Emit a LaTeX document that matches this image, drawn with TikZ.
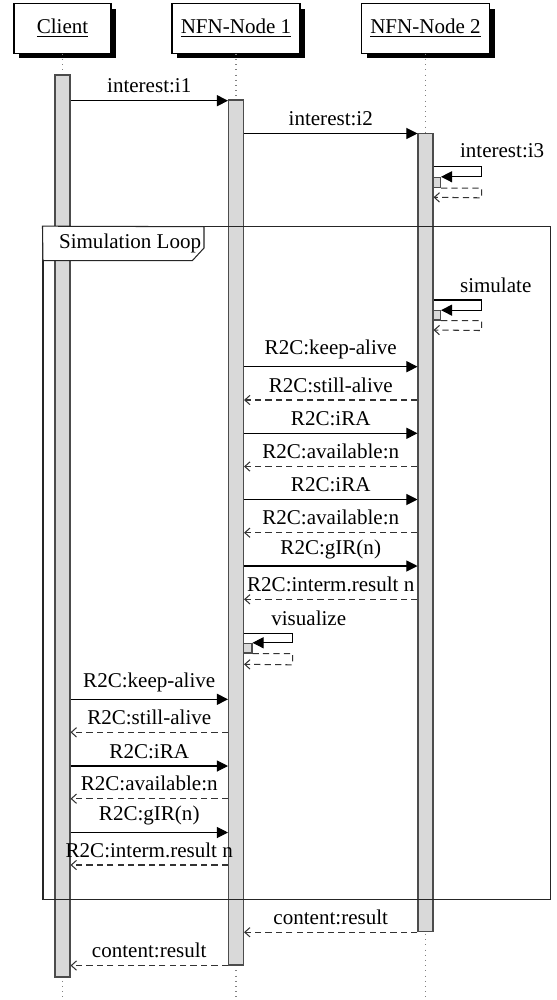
\documentclass[tikz,border=0pt]{standalone}
\usepackage{fontspec}
\setmainfont{Liberation Serif}
\usetikzlibrary{arrows.meta,shadows,fit}
\begin{document}
\begin{tikzpicture}[x=0.48pt,y=-0.48pt,
  font=\fontsize{10.1pt}{12pt}\selectfont,
  inst/.style={draw=black, fill=white, line width=0.5pt, minimum height=23.86pt,
    drop shadow={shadow xshift=2.5pt, shadow yshift=-2.5pt, fill=black, opacity=1}},
  life/.style={draw=gray, dotted, line width=0.5pt},
  bar/.style={draw=black!70, fill=gray!30, line width=0.5pt, inner sep=0pt},
  msg/.style={draw=black, line width=0.5pt, -{Triangle[length=5.3pt,width=5.3pt]}},
  ret/.style={draw=black!80, line width=0.5pt, dash pattern=on 3pt off 2pt,
    -{Straight Barb[length=2.5pt,width=4.5pt]}},
  lbl/.style={midway, above},
  frm/.style={draw=black!85, line width=0.5pt, inner sep=0pt}
]
\useasboundingbox (0,0) rectangle (556,1000);

% instances
\node[inst, minimum width=46.56pt] (hC) at (62.5,28.35) {\underline{Client}};
\node[inst, minimum width=61.44pt] (h1) at (236,28.35) {\underline{NFN-Node 1}};
\node[inst, minimum width=61.44pt] (h2) at (425.5,28.35) {\underline{NFN-Node 2}};

% lifelines
\draw[life] (hC.south) -- (hC.south |- 0,1000);
\draw[life] (h1.south) -- (h1.south |- 0,1000);
\draw[life] (h2.south) -- (h2.south |- 0,1000);

% activation bars
\node[bar, fit={(55,75) (70,977)}] (barC) {};
\node[bar, fit={(228.5,100) (243.5,965)}] (bar1) {};
\node[bar, fit={(418,133.3) (433,931.7)}] (bar2) {};

% initial interests
\draw[msg] (barC.east |- 0,100.7) -- node[lbl]{interest:i1} (bar1.west |- 0,100.7);
\draw[msg] (bar1.east |- 0,133.5) -- node[lbl]{interest:i2} (bar2.west |- 0,133.5);

% self call interest:i3
\node[bar, fit={(433,177.3) (440.5,187.7)}] (s3) {};
\draw[msg] (bar2.east |- 0,166.7) -- ++(48,0) |- (s3.north east);
\draw[ret] (s3.south east) -- ++(40.5,0) -- ++(0,9.6) -- (bar2.east |- 0,197.3);
\node[anchor=base west] (l3) at (452.7,158) {interest:i3};

% self call simulate
\node[bar, fit={(433,310.7) (440.5,320)}] (ss) {};
\draw[msg] (bar2.east |- 0,300) -- ++(48,0) |- (ss.north east);
\draw[ret] (ss.south east) -- ++(40.5,0) -- ++(0,10) -- (bar2.east |- 0,330);
\node[anchor=base west] (lsim) at (452.7,292) {simulate};

% NFN-Node 1 <-> NFN-Node 2
\draw[msg] (bar1.east |- 0,366.7) -- node[lbl]{R2C:keep-alive} (bar2.west |- 0,366.7);
\draw[ret] (bar2.west |- 0,400) -- node[lbl]{R2C:still-alive} (bar1.east |- 0,400);
\draw[msg] (bar1.east |- 0,433.3) -- node[lbl]{R2C:iRA} (bar2.west |- 0,433.3);
\draw[ret] (bar2.west |- 0,466.5) -- node[lbl]{R2C:available:n} (bar1.east |- 0,466.5);
\draw[msg] (bar1.east |- 0,499.5) -- node[lbl]{R2C:iRA} (bar2.west |- 0,499.5);
\draw[ret] (bar2.west |- 0,532.7) -- node[lbl]{R2C:available:n} (bar1.east |- 0,532.7);
\draw[msg] (bar1.east |- 0,566) -- node[lbl]{R2C:gIR(n)} (bar2.west |- 0,566);
\draw[ret] (bar2.west |- 0,599.3) -- node[lbl]{R2C:interm.result n} (bar1.east |- 0,599.3);

% self call visualize
\node[bar, fit={(243.5,643.3) (252,653)}] (sv) {};
\draw[msg] (bar1.east |- 0,633.3) -- ++(48.5,0) |- (sv.north east);
\draw[ret] (sv.south east) -- ++(40,0) -- ++(0,11.3) -- (bar1.east |- 0,664.3);
\node[anchor=base west] (lvis) at (264,625) {visualize};

% Client <-> NFN-Node 1
\draw[msg] (barC.east |- 0,699.3) -- node[lbl]{R2C:keep-alive} (bar1.west |- 0,699.3);
\draw[ret] (bar1.west |- 0,732.3) -- node[lbl]{R2C:still-alive} (barC.east |- 0,732.3);
\draw[msg] (barC.east |- 0,766) -- node[lbl]{R2C:iRA} (bar1.west |- 0,766);
\draw[ret] (bar1.west |- 0,798.7) -- node[lbl]{R2C:available:n} (barC.east |- 0,798.7);
\draw[msg] (barC.east |- 0,832.5) -- node[lbl]{R2C:gIR(n)} (bar1.west |- 0,832.5);
\draw[ret] (bar1.west |- 0,865) -- node[lbl]{R2C:interm.result n} (barC.east |- 0,865);

% results
\draw[ret] (bar2.south west) -- node[lbl]{content:result} (bar1.east |- bar2.south);
\draw[ret] (bar1.south west) -- node[lbl]{content:result} (barC.east |- bar1.south);

% simulation loop frame
\node[frm, fit={(43,226.7) (550.7,899.3)}] (loop) {};
\draw[frm, fill=white] (loop.north west) -- (204,226.7) -- (204,248) -- (192.3,260.7) -- (43,260.7) -- cycle;
\node[anchor=base west] (lloop) at (51.7,248) {Simulation Loop};
\end{tikzpicture}
\end{document}
